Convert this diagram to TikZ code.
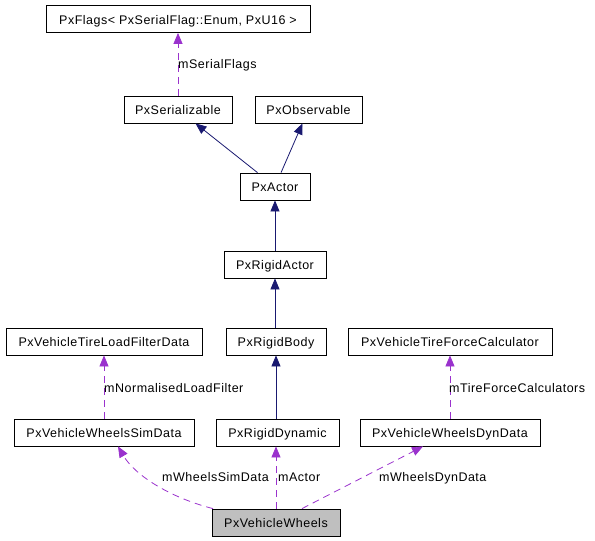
\documentclass[tikz,border=0pt]{standalone}
\usepackage{fontspec}
\setmainfont[LetterSpace=4]{Liberation Sans}
\usetikzlibrary{arrows.meta}
\definecolor{inhcol}{HTML}{191970}
\definecolor{usecol}{HTML}{9A32CD}
\definecolor{boxgray}{HTML}{BFBFBF}
\tikzset{
  cls/.style={draw=black, line width=0.8pt, inner sep=0pt, minimum height=27pt, font=\fontsize{12.5}{15}\selectfont, text height=10.5pt, text depth=0.5pt, anchor=center},
  lbl/.style={inner sep=0pt, anchor=west, font=\fontsize{12.5}{15}\selectfont, text height=10.5pt, text depth=0.5pt},
  inh/.style={draw=inhcol, line width=0.8pt, -{Triangle[length=11pt,width=9pt]}, color=inhcol},
  use/.style={draw=usecol, line width=0.8pt, dash pattern=on 7pt off 5pt, -{Triangle[length=11pt,width=9pt]}, color=usecol}
}
\begin{document}
\begin{tikzpicture}[x=1pt,y=-1pt]
\useasboundingbox (0,0) rectangle (595,541);
\node[cls, minimum width=264pt] (flags) at (178,19) {PxFlags< PxSerialFlag::Enum, PxU16 >};
\node[cls, minimum width=108pt] (ser) at (178,109.5) {PxSerializable};
\node[cls, minimum width=107pt] (obs) at (308.5,109.5) {PxObservable};
\node[cls, minimum width=70pt] (actor) at (275,186.5) {PxActor};
\node[cls, minimum width=102pt] (ract) at (275,264.5) {PxRigidActor};
\node[cls, minimum width=196pt] (tlf) at (104,341.5) {PxVehicleTireLoadFilterData};
\node[cls, minimum width=100pt] (rbody) at (276,341.5) {PxRigidBody};
\node[cls, minimum width=204pt] (tfc) at (450,341.5) {PxVehicleTireForceCalculator};
\node[cls, minimum width=180pt] (sim) at (104,432.5) {PxVehicleWheelsSimData};
\node[cls, minimum width=123pt] (rdyn) at (277.5,432.5) {PxRigidDynamic};
\node[cls, minimum width=180pt] (dyn) at (450,432.5) {PxVehicleWheelsDynData};
\node[cls, minimum width=128pt, fill=boxgray] (wheels) at (276,522.5) {PxVehicleWheels};

\draw[use] (ser) -- (flags);
\draw[inh] (actor) -- (ser);
\draw[inh] (actor) -- (obs);
\draw[inh] (ract) -- (actor);
\draw[inh] (rbody.north -| ract.south) -- (ract);
\draw[inh] (rdyn.north -| rbody.south) -- (rbody);
\draw[use] (sim) -- (tlf);
\draw[use] (dyn.north -| tfc.south) -- (tfc);
\draw[use] ([xshift=-63pt]wheels.north) .. controls ([xshift=-106pt,yshift=11pt]wheels.north) and ([xshift=31pt,yshift=-29pt]sim.south) .. ([xshift=14pt]sim.south);
\draw[use] (wheels.north) -- (wheels.north |- rdyn.south);
\draw[use] ([xshift=26pt]wheels.north) -- ([xshift=-27pt]dyn.south);

\node[lbl] (l1) at (178,63) {mSerialFlags};
\node[lbl] (l2) at (104,387) {mNormalisedLoadFilter};
\node[lbl] (l3) at (449,387) {mTireForceCalculators};
\node[lbl] (l4) at (162,476) {mWheelsSimData};
\node[lbl] (l5) at (278,476) {mActor};
\node[lbl] (l6) at (379,476) {mWheelsDynData};
\end{tikzpicture}
\end{document}
